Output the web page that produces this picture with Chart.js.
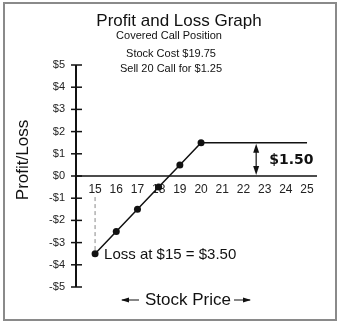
<!DOCTYPE html>
<html>
<head>
<meta charset="utf-8">
<script src="https://cdn.jsdelivr.net/npm/chart.js@4.4.3/dist/chart.umd.min.js"></script>
<style>
  html, body { margin: 0; padding: 0; background: #fff; }
  canvas { display: block; }
</style>
</head>
<body>
<canvas id="pnl" width="340" height="324"></canvas>
<script>
// covered call: stock bought at 19.75, 20 call sold for 1.25
const stockPrices = [15, 16, 17, 18, 19, 20, 25];
const profitLoss = [-3.5, -2.5, -1.5, -0.5, 0.5, 1.5, 1.5];
const markedPoint = [true, true, true, true, true, true, false];
const xTickLabels = [15, 16, 17, 18, 19, 20, 21, 22, 23, 24, 25];
const yTickValues = [5, 4, 3, 2, 1, 0, -1, -2, -3, -4, -5];
const maxProfit = 1.5;
const maxProfitArrowAt = 22.6;
const lossAt = 15;
const lossValue = -3.5;

const fmtDollar = v => (v < 0 ? '-$' : '$') + Math.abs(v);

function arrowHead(ctx, x, y, dir, w, h) {
    // dir: 'up' | 'down' | 'left' | 'right', tip at (x, y)
    ctx.beginPath();
    ctx.moveTo(x, y);
    if (dir === 'up') { ctx.lineTo(x - w, y + h); ctx.lineTo(x + w, y + h); }
    if (dir === 'down') { ctx.lineTo(x - w, y - h); ctx.lineTo(x + w, y - h); }
    if (dir === 'left') { ctx.lineTo(x + h, y - w); ctx.lineTo(x + h, y + w); }
    if (dir === 'right') { ctx.lineTo(x - h, y - w); ctx.lineTo(x - h, y + w); }
    ctx.closePath();
    ctx.fill();
}

const axesPlugin = {
    id: 'axesPlugin',
    beforeDatasetsDraw(chart) {
        const { ctx, scales: { x, y } } = chart;
        const x0 = x.left;
        const yZero = y.getPixelForValue(0);
        ctx.save();

        // vertical axis with crossing ticks
        ctx.strokeStyle = '#111';
        ctx.lineWidth = 2;
        ctx.beginPath();
        ctx.moveTo(x0, y.getPixelForValue(5));
        ctx.lineTo(x0, y.getPixelForValue(-5));
        ctx.stroke();
        ctx.lineWidth = 1.5;
        ctx.font = '11px "Liberation Sans", Arial, sans-serif';
        ctx.fillStyle = '#222';
        ctx.textAlign = 'right';
        ctx.textBaseline = 'middle';
        yTickValues.forEach(v => {
            const py = y.getPixelForValue(v);
            ctx.beginPath();
            ctx.moveTo(x0 - 5, py);
            ctx.lineTo(x0 + 6, py);
            ctx.stroke();
            ctx.fillText(fmtDollar(v), x0 - 11, py);
        });

        // horizontal zero line
        ctx.lineWidth = 1.5;
        ctx.beginPath();
        ctx.moveTo(x0, yZero);
        ctx.lineTo(x.right, yZero);
        ctx.stroke();
        ctx.textAlign = 'center';
        ctx.font = '12px "Liberation Sans", Arial, sans-serif';
        xTickLabels.forEach(v => {
            ctx.fillText(String(v), x.getPixelForValue(v), yZero + 14);
        });

        // dashed drop line to the loss point
        ctx.strokeStyle = '#888';
        ctx.lineWidth = 1;
        ctx.setLineDash([4, 3]);
        ctx.beginPath();
        ctx.moveTo(x.getPixelForValue(lossAt), y.getPixelForValue(-0.95));
        ctx.lineTo(x.getPixelForValue(lossAt), y.getPixelForValue(lossValue));
        ctx.stroke();
        ctx.restore();
    },
    afterDatasetsDraw(chart) {
        const { ctx, scales: { x, y } } = chart;
        ctx.save();
        ctx.fillStyle = '#111';
        ctx.strokeStyle = '#111';

        // max profit arrow
        const ax = x.getPixelForValue(maxProfitArrowAt);
        const top = y.getPixelForValue(maxProfit);
        const bot = y.getPixelForValue(0);
        ctx.lineWidth = 1.2;
        ctx.beginPath();
        ctx.moveTo(ax, top + 6);
        ctx.lineTo(ax, bot - 6);
        ctx.stroke();
        arrowHead(ctx, ax, top + 1, 'up', 3, 9);
        arrowHead(ctx, ax, bot - 1, 'down', 3, 9);
        ctx.font = 'bold 14px "DejaVu Sans", sans-serif';
        ctx.textAlign = 'left';
        ctx.textBaseline = 'middle';
        ctx.fillText('$1.50', ax + 13, (top + bot) / 2 + 1);

        // loss annotation
        ctx.font = '15px "Liberation Sans", Arial, sans-serif';
        ctx.fillText('Loss at $15 = $3.50', x.getPixelForValue(lossAt) + 9, y.getPixelForValue(lossValue) + 1);

        // titles
        ctx.textAlign = 'center';
        ctx.textBaseline = 'alphabetic';
        ctx.font = '17px "Liberation Sans", Arial, sans-serif';
        ctx.fillText('Profit and Loss Graph', 179, 26);
        ctx.font = '11px "Liberation Sans", Arial, sans-serif';
        ctx.fillText('Covered Call Position', 169, 39);
        ctx.fillText('Stock Cost $19.75', 171, 57);
        ctx.fillText('Sell 20 Call for $1.25', 171, 72);

        // axis titles
        ctx.font = '17px "Liberation Sans", Arial, sans-serif';
        ctx.textBaseline = 'middle';
        ctx.fillText('Stock Price', 188, 300);
        ctx.lineWidth = 1.2;
        ctx.beginPath();
        ctx.moveTo(122, 300); ctx.lineTo(139, 300);
        ctx.moveTo(234, 300); ctx.lineTo(250, 300);
        ctx.stroke();
        arrowHead(ctx, 121, 300, 'left', 2.5, 8);
        arrowHead(ctx, 251, 300, 'right', 2.5, 8);

        ctx.save();
        ctx.translate(23, 160);
        ctx.rotate(-Math.PI / 2);
        ctx.fillText('Profit/Loss', 0, 0);
        ctx.restore();

        // frame
        ctx.strokeStyle = '#8a8a8a';
        ctx.lineWidth = 2;
        ctx.strokeRect(4, 3, 332, 317);
        ctx.restore();
    }
};

new Chart(document.getElementById('pnl'), {
    type: 'line',
    data: {
        datasets: [{
            data: stockPrices.map((p, i) => ({ x: p, y: profitLoss[i] })),
            borderColor: '#111',
            borderWidth: 1.5,
            pointRadius: markedPoint.map(m => m ? 3.5 : 0),
            pointBackgroundColor: '#111',
            pointBorderWidth: 0,
            tension: 0
        }]
    },
    options: {
        responsive: false,
        animation: false,
        layout: { padding: { left: 76, right: 23, top: 65, bottom: 37 } },
        plugins: { legend: { display: false }, tooltip: { enabled: false } },
        scales: {
            x: { type: 'linear', min: 14.1, max: 25.47, display: false },
            y: { type: 'linear', min: -5, max: 5, display: false }
        }
    },
    plugins: [axesPlugin]
});
</script>
</body>
</html>
